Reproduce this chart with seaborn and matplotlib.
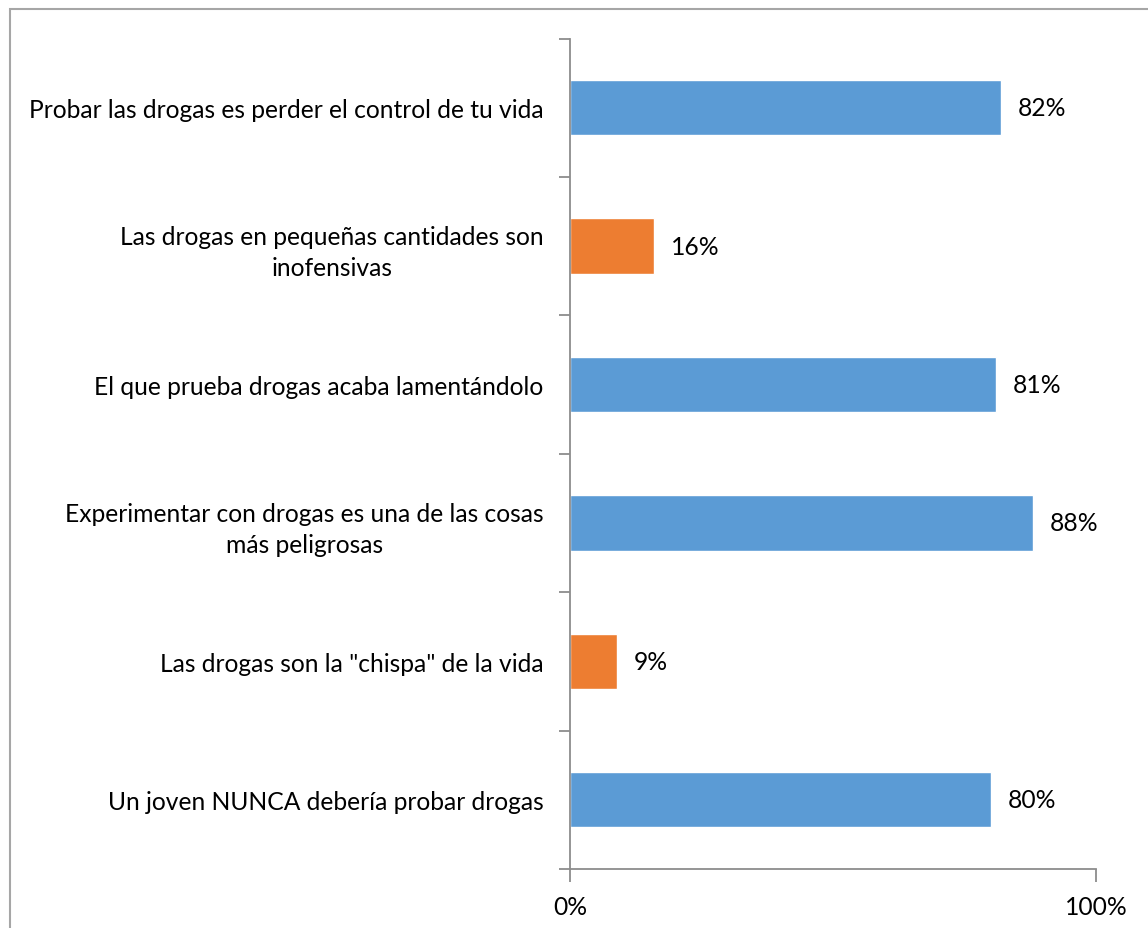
import matplotlib
matplotlib.use("Agg")
import matplotlib.pyplot as plt
import matplotlib.patches as mpatches
import seaborn as sns
import numpy as np

categories = [
    "Probar las drogas es perder el control de tu vida",
    "Las drogas en pequeñas cantidades son\ninofensivas",
    "El que prueba drogas acaba lamentándolo",
    "Experimentar con drogas es una de las cosas\nmás peligrosas",
    "Las drogas son la \"chispa\" de la vida",
    "Un joven NUNCA debería probar drogas",
]
values = [82, 16, 81, 88, 9, 80]
bar_colors = ["#5B9BD5", "#ED7D31", "#5B9BD5", "#5B9BD5", "#ED7D31", "#5B9BD5"]
x_ticks = [0, 100]
x_tick_labels = ["0%", "100%"]

sns.set_theme(style="white")
plt.rcParams["font.family"] = ["Lato", "DejaVu Sans"]

FS = 17.7
W, H = 1148, 929
fig = plt.figure(figsize=(W / 100, H / 100), dpi=100)
ax = fig.add_axes([570 / W, 1 - 870 / H, (1096 - 570) / W, (870 - 39.5) / H])

sns.barplot(x=values, y=categories, hue=categories, palette=bar_colors,
            legend=False, width=0.4, saturation=1, ax=ax, orient="h")

ax.set_xlim(0, 100)
ax.set_ylim(len(categories) - 0.5, -0.5)

gray = "#8C8C8C"
for side in ["top", "right"]:
    ax.spines[side].set_visible(False)
for side in ["left", "bottom"]:
    ax.spines[side].set_color(gray)
    ax.spines[side].set_linewidth(1.3)

# category separators as major ticks, category names as minor labels
n = len(categories)
ax.set_yticks(np.arange(-0.5, n, 1.0))
ax.set_yticklabels([])
ax.set_yticks(np.arange(n), minor=True)
ax.set_yticklabels(categories, minor=True, fontsize=FS, color="black",
                   multialignment="center", linespacing=1.42)
ax.tick_params(axis="y", which="major", length=8, width=1.3, color=gray, direction="out", left=True)
ax.tick_params(axis="y", which="minor", length=0, pad=19, left=True)

ax.set_xticks(x_ticks)
ax.set_xticklabels(x_tick_labels, fontsize=FS, color="black")
ax.tick_params(axis="x", length=9, width=1.3, color=gray, direction="out", pad=10, bottom=True)
ax.set_xlabel("")
ax.set_ylabel("")

for i, v in enumerate(values):
    ax.text(v + 3.2, i, f"{v}%", va="center", ha="left", fontsize=FS, color="black")

# outer chart border
fig.patches.append(mpatches.Rectangle((9.5 / W, -0.05), 1.2, 1 - 10 / H + 0.05,
                                      transform=fig.transFigure, fill=False,
                                      edgecolor="#A6A6A6", linewidth=1.5))

fig.savefig("out.png", dpi=100)
